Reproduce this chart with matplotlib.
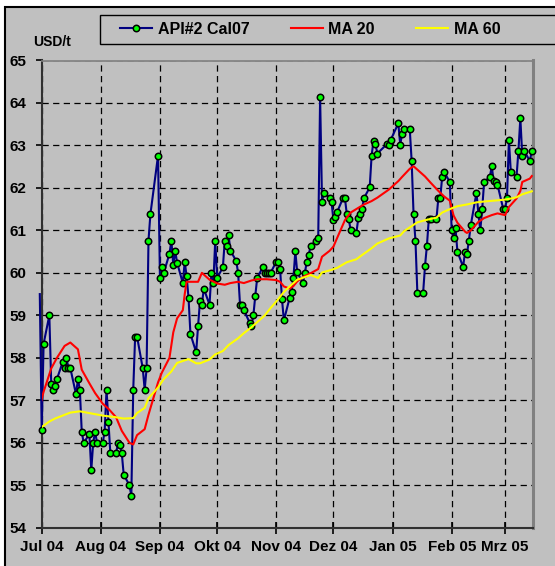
import pandas as pd
import matplotlib
matplotlib.use("Agg")
import matplotlib.pyplot as plt
from matplotlib.lines import Line2D
from matplotlib.patches import Rectangle

plt.rcParams['font.family'] = ['Liberation Sans', 'DejaVu Sans']
plt.rcParams['font.weight'] = 'bold'

# API#2 Cal07 daily quotes (USD/t)
api_dates = [
    '2004-06-30', '2004-07-01', '2004-07-02', '2004-07-05', '2004-07-06', '2004-07-07', '2004-07-08', '2004-07-09',
    '2004-07-12', '2004-07-13', '2004-07-14', '2004-07-15', '2004-07-16', '2004-07-19', '2004-07-20', '2004-07-21',
    '2004-07-22', '2004-07-23', '2004-07-26', '2004-07-27', '2004-07-28', '2004-07-29', '2004-07-30', '2004-08-02',
    '2004-08-03', '2004-08-04', '2004-08-05', '2004-08-06', '2004-08-09', '2004-08-10', '2004-08-11', '2004-08-12',
    '2004-08-13', '2004-08-16', '2004-08-17', '2004-08-18', '2004-08-19', '2004-08-20', '2004-08-23', '2004-08-24',
    '2004-08-25', '2004-08-26', '2004-08-27', '2004-08-31', '2004-09-01', '2004-09-02', '2004-09-03', '2004-09-06',
    '2004-09-07', '2004-09-08', '2004-09-09', '2004-09-10', '2004-09-13', '2004-09-14', '2004-09-15', '2004-09-16',
    '2004-09-17', '2004-09-20', '2004-09-21', '2004-09-22', '2004-09-23', '2004-09-24', '2004-09-27', '2004-09-28',
    '2004-09-29', '2004-09-30', '2004-10-01', '2004-10-04', '2004-10-05', '2004-10-06', '2004-10-07', '2004-10-08',
    '2004-10-11', '2004-10-12', '2004-10-13', '2004-10-14', '2004-10-15', '2004-10-18', '2004-10-19', '2004-10-20',
    '2004-10-21', '2004-10-22', '2004-10-25', '2004-10-26', '2004-10-27', '2004-10-28', '2004-10-29', '2004-11-01',
    '2004-11-02', '2004-11-03', '2004-11-04', '2004-11-05', '2004-11-08', '2004-11-09', '2004-11-10', '2004-11-11',
    '2004-11-12', '2004-11-15', '2004-11-16', '2004-11-17', '2004-11-18', '2004-11-19', '2004-11-22', '2004-11-23',
    '2004-11-24', '2004-11-25', '2004-11-26', '2004-11-29', '2004-11-30', '2004-12-01', '2004-12-02', '2004-12-03',
    '2004-12-06', '2004-12-07', '2004-12-08', '2004-12-09', '2004-12-10', '2004-12-13', '2004-12-14', '2004-12-15',
    '2004-12-16', '2004-12-17', '2004-12-20', '2004-12-21', '2004-12-22', '2004-12-23', '2004-12-24', '2004-12-29',
    '2004-12-30', '2004-12-31', '2005-01-04', '2005-01-05', '2005-01-06', '2005-01-07', '2005-01-10', '2005-01-11',
    '2005-01-12', '2005-01-13', '2005-01-14', '2005-01-17', '2005-01-18', '2005-01-19', '2005-01-20', '2005-01-21',
    '2005-01-24', '2005-01-25', '2005-01-26', '2005-01-27', '2005-01-28', '2005-01-31', '2005-02-01', '2005-02-02',
    '2005-02-03', '2005-02-04', '2005-02-07', '2005-02-08', '2005-02-09', '2005-02-10', '2005-02-11', '2005-02-14',
    '2005-02-15', '2005-02-16', '2005-02-17', '2005-02-18', '2005-02-21', '2005-02-22', '2005-02-23', '2005-02-24',
    '2005-02-25', '2005-02-28', '2005-03-01', '2005-03-02', '2005-03-03', '2005-03-04', '2005-03-07', '2005-03-08',
    '2005-03-09', '2005-03-10', '2005-03-11', '2005-03-14', '2005-03-15',
]
api_values = [
    59.50, 56.30, 58.33, 59.00, 57.39, 57.25, 57.33, 57.50,
    57.90, 57.76, 58.00, 57.76, 57.76, 57.14, 57.50, 57.25,
    56.26, 56.00, 56.20, 55.35, 56.00, 56.26, 56.00, 56.00,
    56.26, 57.25, 56.50, 55.75, 55.75, 56.00, 55.94, 55.75,
    55.25, 55.00, 54.75, 57.25, 58.50, 58.50, 57.75, 57.25,
    57.75, 60.76, 61.38, 62.76, 59.88, 60.13, 60.00, 60.45,
    60.76, 60.18, 60.52, 60.24, 59.76, 60.26, 59.92, 59.41,
    58.56, 58.13, 58.75, 59.33, 59.25, 59.63, 59.25, 60.00,
    59.75, 60.76, 59.88, 60.13, 60.76, 60.64, 60.88, 60.52,
    60.28, 60.00, 59.25, 59.25, 59.13, 58.83, 58.76, 59.00,
    59.46, 59.88, 60.14, 60.00, 60.00, 60.00, 60.00, 60.26,
    60.26, 60.10, 59.38, 58.88, 59.41, 59.55, 59.88, 60.51,
    60.01, 59.76, 60.00, 60.26, 60.41, 60.64, 60.76, 60.81,
    64.13, 61.68, 61.89, 61.77, 61.66, 61.24, 61.31, 61.44,
    61.76, 61.76, 61.38, 61.27, 61.01, 60.94, 61.28, 61.39,
    61.51, 61.76, 62.01, 62.76, 63.11, 63.04, 62.81, 63.03,
    63.02, 63.13, 63.52, 63.02, 63.27, 63.39, 63.39, 62.63,
    61.38, 60.76, 59.52, 59.52, 60.16, 60.64, 61.27, 61.27,
    61.27, 61.76, 61.76, 62.26, 62.38, 62.14, 61.00, 60.81,
    61.05, 60.50, 60.14, 60.50, 60.44, 60.76, 61.12, 61.89,
    61.39, 61.00, 61.51, 62.14, 62.26, 62.51, 62.16, 62.14,
    62.08, 61.51, 61.51, 61.76, 63.13, 62.38, 62.26, 62.88,
    63.64, 62.76, 62.88, 62.63, 62.88,
]

# MA 20
ma20_dates = [
    '2004-06-30', '2004-07-02', '2004-07-06', '2004-07-09', '2004-07-13', '2004-07-16', '2004-07-20', '2004-07-22',
    '2004-07-26', '2004-07-29', '2004-08-02', '2004-08-05', '2004-08-09', '2004-08-12', '2004-08-16', '2004-08-18',
    '2004-08-20', '2004-08-24', '2004-08-26', '2004-08-31', '2004-09-02', '2004-09-06', '2004-09-08', '2004-09-10',
    '2004-09-13', '2004-09-14', '2004-09-15', '2004-09-17', '2004-09-21', '2004-09-23', '2004-09-27', '2004-10-01',
    '2004-10-05', '2004-10-08', '2004-10-12', '2004-10-15', '2004-10-19', '2004-10-22', '2004-10-27', '2004-11-01',
    '2004-11-03', '2004-11-05', '2004-11-08', '2004-11-10', '2004-11-12', '2004-11-16', '2004-11-19', '2004-11-23',
    '2004-11-25', '2004-11-29', '2004-12-01', '2004-12-03', '2004-12-07', '2004-12-10', '2004-12-14', '2004-12-17',
    '2004-12-21', '2004-12-24', '2004-12-30', '2005-01-04', '2005-01-06', '2005-01-10', '2005-01-12', '2005-01-14',
    '2005-01-18', '2005-01-21', '2005-01-25', '2005-01-28', '2005-01-31', '2005-02-02', '2005-02-04', '2005-02-08',
    '2005-02-09', '2005-02-11', '2005-02-15', '2005-02-18', '2005-02-22', '2005-02-25', '2005-03-01', '2005-03-03',
    '2005-03-07', '2005-03-09', '2005-03-10', '2005-03-14', '2005-03-15',
]
ma20_values = [
    56.85, 57.20, 57.75, 58.00, 58.28, 58.36, 58.20, 57.72,
    57.40, 57.17, 56.92, 56.80, 56.60, 56.28, 56.00, 55.96,
    56.18, 56.32, 56.66, 57.42, 57.65, 58.00, 58.60, 58.93,
    59.12, 59.50, 59.79, 59.79, 59.79, 60.00, 59.84, 59.75,
    59.72, 59.76, 59.79, 59.76, 59.82, 59.85, 59.85, 59.83,
    59.79, 59.68, 59.63, 59.69, 59.80, 59.93, 59.99, 60.09,
    60.38, 60.52, 60.62, 60.83, 61.24, 61.42, 61.53, 61.61,
    61.69, 61.77, 61.96, 62.16, 62.26, 62.45, 62.51, 62.43,
    62.27, 62.12, 61.93, 61.80, 61.70, 61.35, 61.18, 60.97,
    60.94, 61.00, 61.20, 61.29, 61.36, 61.40, 61.36, 61.55,
    61.75, 61.93, 62.14, 62.22, 62.28,
]

# MA 60
ma60_dates = [
    '2004-07-01', '2004-07-05', '2004-07-08', '2004-07-12', '2004-07-16', '2004-07-21', '2004-07-27', '2004-08-02',
    '2004-08-09', '2004-08-13', '2004-08-18', '2004-08-20', '2004-08-24', '2004-08-26', '2004-08-31', '2004-09-03',
    '2004-09-07', '2004-09-10', '2004-09-14', '2004-09-16', '2004-09-20', '2004-09-22', '2004-09-27', '2004-09-30',
    '2004-10-04', '2004-10-07', '2004-10-12', '2004-10-15', '2004-10-19', '2004-10-22', '2004-10-26', '2004-10-29',
    '2004-11-02', '2004-11-05', '2004-11-09', '2004-11-12', '2004-11-16', '2004-11-19', '2004-11-23', '2004-11-25',
    '2004-11-30', '2004-12-03', '2004-12-08', '2004-12-13', '2004-12-16', '2004-12-21', '2004-12-24', '2004-12-30',
    '2005-01-05', '2005-01-07', '2005-01-11', '2005-01-14', '2005-01-19', '2005-01-24', '2005-01-27', '2005-02-01',
    '2005-02-04', '2005-02-09', '2005-02-14', '2005-02-18', '2005-02-23', '2005-02-28', '2005-03-03', '2005-03-07',
    '2005-03-10', '2005-03-15',
]
ma60_values = [
    56.37, 56.50, 56.57, 56.64, 56.71, 56.74, 56.69, 56.64,
    56.60, 56.57, 56.58, 56.70, 56.82, 57.05, 57.30, 57.50,
    57.68, 57.88, 57.94, 57.97, 57.87, 57.87, 57.96, 58.08,
    58.16, 58.30, 58.46, 58.58, 58.72, 58.84, 59.00, 59.17,
    59.38, 59.55, 59.72, 59.84, 59.90, 59.95, 59.88, 60.01,
    60.07, 60.12, 60.25, 60.32, 60.42, 60.58, 60.69, 60.81,
    60.88, 60.98, 61.10, 61.19, 61.25, 61.30, 61.42, 61.52,
    61.57, 61.61, 61.66, 61.68, 61.70, 61.72, 61.74, 61.78,
    61.85, 61.92,
]

month_ticks = ['2004-07-01', '2004-08-01', '2004-09-01', '2004-10-01', '2004-11-01',
               '2004-12-01', '2005-01-01', '2005-02-01', '2005-03-01']
month_labels = ['Jul 04', 'Aug 04', 'Sep 04', 'Okt 04', 'Nov 04', 'Dez 04', 'Jan 05', 'Feb 05', 'Mrz 05']

W, H = 555, 566
fig = plt.figure(figsize=(W / 100, H / 100), dpi=100, facecolor='white')
# grey chart area with black border (cut off at right and bottom)
fig.patches.append(Rectangle((5 / W, -0.1), 1.2, 1 - 7 / H + 0.1, transform=fig.transFigure,
                             facecolor='#c0c0c0', edgecolor='black', lw=1.5, zorder=-1))

ax = fig.add_axes([41.7 / W, 38.3 / H, (533.3 - 41.7) / W, (527.7 - 60.5) / H])
ax.set_zorder(2)
ax.set_facecolor('#c0c0c0')

api_line, = ax.plot(pd.to_datetime(api_dates), api_values, color='#000080', lw=1.5,
                    marker='o', ms=4.6, mfc='#00ff00', mec='black', mew=1.1,
                    markevery=list(range(1, len(api_values))), clip_on=False, zorder=3)
ma20_line, = ax.plot(pd.to_datetime(ma20_dates), ma20_values, color='#ff0000', lw=1.5, zorder=4)
ma60_line, = ax.plot(pd.to_datetime(ma60_dates), ma60_values, color='#ffff00', lw=1.5, zorder=5)

ax.set_xlim(pd.Timestamp('2004-07-01'), pd.Timestamp('2005-03-15 19:00'))
ax.set_ylim(54, 65)
ax.set_yticks(range(54, 66))
ax.set_xticks(pd.to_datetime(month_ticks))
ax.set_xticklabels(month_labels)

ax.grid(True, color='black', linestyle=(0, (5, 3.5)), lw=0.9)
ax.set_axisbelow(True)
ax.tick_params(axis='y', direction='out', length=4.3, width=1.2, pad=6.5, labelsize=11)
ax.tick_params(axis='x', direction='inout', length=8, width=1.2, pad=5, labelsize=11)
for s in ['left', 'bottom']:
    ax.spines[s].set_color('#303030')
    ax.spines[s].set_linewidth(1.5)
ax.spines['top'].set_color('#808080')
ax.spines['top'].set_linewidth(1.2)
ax.spines['right'].set_color('#808080')
ax.spines['right'].set_linewidth(2.2)

fig.text(33 / W, 1 - 42 / H, 'USD/t', fontsize=10, fontweight='bold', va='center', ha='left')

# legend frame runs off the right edge, like the original
fig.patches.append(Rectangle((100 / W, 1 - 44 / H), 1.0, 29 / H, transform=fig.transFigure,
                             facecolor='#c0c0c0', edgecolor='black', lw=1.0, zorder=1))
handles = [
    Line2D([], [], color='#000080', lw=1.5, marker='o', ms=4.6, mfc='#00ff00', mec='black', mew=1.1),
    Line2D([], [], color='#ff0000', lw=1.5),
    Line2D([], [], color='#ffff00', lw=1.5),
]
leg = fig.legend(handles, ['API#2 Cal07', 'MA 20', 'MA 60'], loc='center left',
                 bbox_to_anchor=(120 / W, 1 - 29.5 / H), ncol=3, frameon=False,
                 prop={'size': 11.5, 'weight': 'bold'}, handlelength=2.0,
                 handletextpad=0.35, columnspacing=2.6, borderpad=0, borderaxespad=0)
leg.set_zorder(6)

fig.savefig('out.png', dpi=100, facecolor=fig.get_facecolor())
